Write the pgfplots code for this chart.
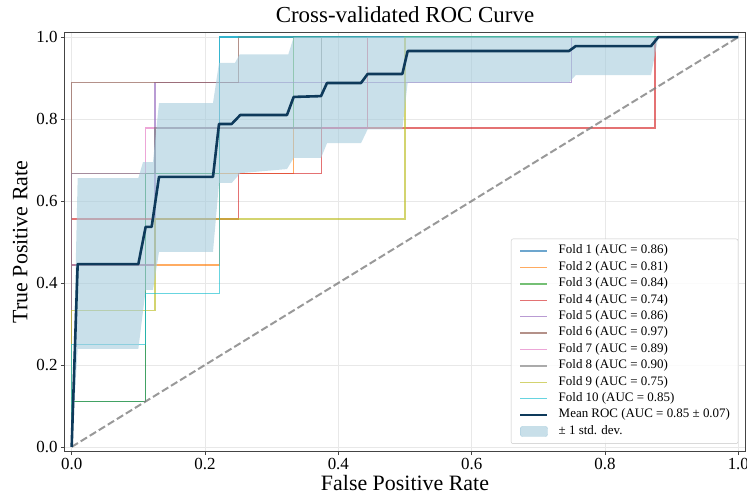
\documentclass[border=0pt]{standalone}
\usepackage{fontspec}
\setmainfont{Liberation Serif}
\usepackage{pgfplots}
\pgfplotsset{compat=1.18}
\definecolor{foldA}{HTML}{1F77B4}
\definecolor{foldB}{HTML}{FF7F0E}
\definecolor{foldC}{HTML}{2CA02C}
\definecolor{foldD}{HTML}{D62728}
\definecolor{foldE}{HTML}{9467BD}
\definecolor{foldF}{HTML}{8C564B}
\definecolor{foldG}{HTML}{E377C2}
\definecolor{foldH}{HTML}{7F7F7F}
\definecolor{foldI}{HTML}{BCBD22}
\definecolor{foldJ}{HTML}{17BECF}
\definecolor{meanc}{HTML}{0E3A5B}
\definecolor{bandc}{RGB}{165,203,220}
\definecolor{framec}{HTML}{444444}
\begin{document}
\begin{tikzpicture}
\begin{axis}[
  at={(0,0)}, anchor=south west,
  width=680bp, height=418bp, scale only axis,
  xmin=-0.01, xmax=1.01, ymin=-0.01, ymax=1.01,
  xtick={0,0.2,0.4,0.6,0.8,1.0},
  ytick={0,0.2,0.4,0.6,0.8,1.0},
  xticklabel style={/pgf/number format/.cd, fixed, fixed zerofill, precision=1},
  yticklabel style={/pgf/number format/.cd, fixed, fixed zerofill, precision=1},
  /pgf/number format/assume math mode=true,
  tick label style={font=\fontsize{17}{17}\selectfont, text=black},
  tick align=outside, major tick length=4bp,
  tick style={framec, line width=0.8bp},
  xtick pos=bottom, ytick pos=left,
  axis line style={framec, line width=1bp},
  grid=major, major grid style={gray!18, line width=0.8bp},
  title={Cross-validated ROC Curve},
  title style={font=\fontsize{23}{23}\selectfont, yshift=1bp},
  xlabel={False Positive Rate},
  ylabel={True Positive Rate},
  label style={font=\fontsize{22}{22}\selectfont},
  xlabel style={yshift=2bp},
  ylabel style={yshift=2bp},
  legend cell align=left,
  legend image code/.code={\draw[#1] (0bp,0bp) -- (27bp,0bp);},
  legend style={at={(0.99,0.017)}, anchor=south east,
    font=\fontsize{13}{13}\selectfont,
    draw=gray!45, rounded corners=2bp, fill=white, fill opacity=0.85, text opacity=1,
    inner xsep=8bp, inner ysep=4bp, column sep=10bp, row sep=0pt,
    nodes={inner sep=0pt, text height=11bp, text depth=5.4bp}},
]
\addplot[foldA, opacity=0.65, line width=1.3bp] coordinates {(0,0) (0,0.111) (0.111,0.111) (0.111,0.667) (0.222,0.667) (0.222,1) (1,1)};
\addlegendentry{Fold 1 (AUC = 0.86)}
\addplot[foldB, opacity=0.65, line width=1.3bp] coordinates {(0,0) (0,0.444) (0.222,0.444) (0.222,0.667) (0.333,0.667) (0.333,0.778) (0.444,0.778) (0.444,1) (1,1)};
\addlegendentry{Fold 2 (AUC = 0.81)}
\addplot[foldC, opacity=0.65, line width=1.3bp] coordinates {(0,0) (0,0.111) (0.111,0.111) (0.111,0.667) (0.222,0.667) (0.222,0.778) (0.333,0.778) (0.333,1) (1,1)};
\addlegendentry{Fold 3 (AUC = 0.84)}
\addplot[foldD, opacity=0.65, line width=1.3bp] coordinates {(0,0) (0,0.556) (0.25,0.556) (0.25,0.667) (0.375,0.667) (0.375,0.778) (0.875,0.778) (0.875,1) (1,1)};
\addlegendentry{Fold 4 (AUC = 0.74)}
\addplot[foldE, opacity=0.65, line width=1.3bp] coordinates {(0,0) (0,0.444) (0.125,0.444) (0.125,0.889) (0.75,0.889) (0.75,1) (1,1)};
\addlegendentry{Fold 5 (AUC = 0.86)}
\addplot[foldF, opacity=0.65, line width=1.3bp] coordinates {(0,0) (0,0.889) (0.25,0.889) (0.25,1) (1,1)};
\addlegendentry{Fold 6 (AUC = 0.97)}
\addplot[foldG, opacity=0.65, line width=1.3bp] coordinates {(0,0) (0,0.667) (0.111,0.667) (0.111,0.778) (0.444,0.778) (0.444,1) (1,1)};
\addlegendentry{Fold 7 (AUC = 0.89)}
\addplot[foldH, opacity=0.65, line width=1.3bp] coordinates {(0,0) (0,0.667) (0.125,0.667) (0.125,0.778) (0.375,0.778) (0.375,1) (1,1)};
\addlegendentry{Fold 8 (AUC = 0.90)}
\addplot[foldI, opacity=0.65, line width=1.3bp] coordinates {(0,0) (0,0.333) (0.125,0.333) (0.125,0.556) (0.5,0.556) (0.5,1) (1,1)};
\addlegendentry{Fold 9 (AUC = 0.75)}
\addplot[foldJ, opacity=0.65, line width=1.3bp] coordinates {(0,0) (0,0.25) (0.111,0.25) (0.111,0.375) (0.222,0.375) (0.222,1) (1,1)};
\addlegendentry{Fold 10 (AUC = 0.85)}
% std band (upper then lower reversed)
\addplot[forget plot, draw=none, fill=bandc, fill opacity=0.6] coordinates {
 (0,0) (0.009,0.656) (0.10,0.656) (0.107,0.695) (0.122,0.695) (0.131,0.839) (0.212,0.839)
 (0.221,0.937) (0.245,0.937) (0.252,0.958) (0.325,0.958) (0.333,1.0) (1,1)
 (0.88,1.0) (0.869,0.907) (0.756,0.907) (0.746,0.889) (0.504,0.889) (0.496,0.775) (0.444,0.775)
 (0.434,0.741) (0.383,0.741) (0.374,0.705) (0.333,0.705) (0.323,0.678) (0.253,0.668) (0.24,0.644)
 (0.221,0.644) (0.212,0.476) (0.131,0.476) (0.122,0.383) (0.111,0.383) (0.10,0.239) (0.009,0.239) (0,0)
} -- cycle;
% chance line
\addplot[forget plot, gray, opacity=0.8, line width=2bp, dash pattern=on 7.4bp off 3.2bp] coordinates {(0,0) (1,1)};
% mean ROC
\addplot[meanc, line width=2.6bp, line join=round] coordinates {
 (0,0) (0.009,0.446) (0.10,0.446) (0.111,0.537) (0.12,0.537) (0.131,0.659) (0.212,0.659)
 (0.221,0.788) (0.24,0.788) (0.253,0.81) (0.323,0.81) (0.333,0.854) (0.374,0.856) (0.383,0.888)
 (0.434,0.888) (0.444,0.91) (0.496,0.91) (0.504,0.966) (0.746,0.966) (0.756,0.978) (0.869,0.978)
 (0.88,1.0) (1.0,1.0)};
\addlegendentry{Mean ROC (AUC = 0.85 ± 0.07)}
\addlegendimage{legend image code/.code={\fill[bandc, fill opacity=0.6] (0bp,-5bp) rectangle (27bp,5bp);}}
\addlegendentry{± 1 std. dev.}
\end{axis}
\pgfresetboundingbox
\path[use as bounding box] (-65bp,-45bp) rectangle (682bp,451bp);
\end{tikzpicture}
\end{document}
